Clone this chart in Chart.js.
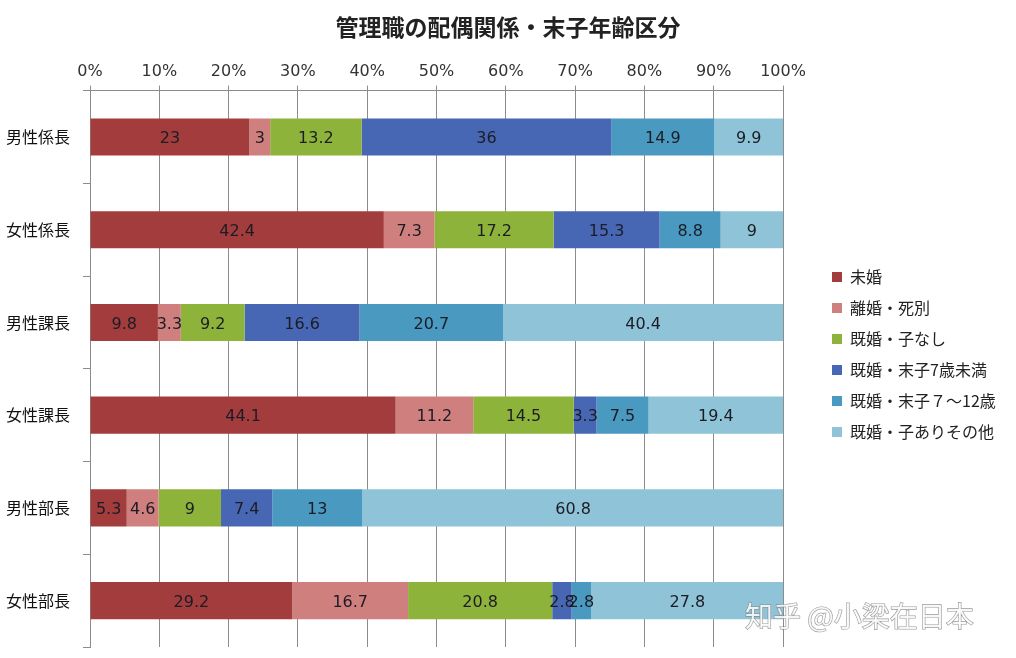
<!DOCTYPE html>
<html lang="ja">
<head>
<meta charset="utf-8">
<title>管理職の配偶関係・末子年齢区分</title>
<script src="https://cdn.jsdelivr.net/npm/chart.js@4/dist/chart.umd.min.js"></script>
<style>
  html, body { margin: 0; padding: 0; background: #fff; }
  #wrap { width: 1016px; height: 658px; }
</style>
</head>
<body>
<div id="wrap"><canvas id="cKanri" width="1016" height="658"></canvas></div>
<script>
/* ── datos ─────────────────────────── */
const categories = ['男性係長', '女性係長', '男性課長', '女性課長', '男性部長', '女性部長'];
const seriesNames = ['未婚', '離婚・死別', '既婚・子なし', '既婚・末子7歳未満', '既婚・末子７～12歳', '既婚・子ありその他'];
const mikon     = [23,   42.4,  9.8, 44.1,  5.3, 29.2];
const rikon     = [3,     7.3,  3.3, 11.2,  4.6, 16.7];
const konNashi  = [13.2, 17.2,  9.2, 14.5,  9,   20.8];
const matsu7    = [36,   15.3, 16.6,  3.3,  7.4,  2.8];
const matsu712  = [14.9,  8.8, 20.7,  7.5, 13,    2.8];
const sonota    = [9.9,   9,   40.4, 19.4, 60.8, 27.8];
const seriesData = [mikon, rikon, konNashi, matsu7, matsu712, sonota];
const xTicks = [0, 10, 20, 30, 40, 50, 60, 70, 80, 90, 100];

const colors = ['#a33c3c', '#cf7f7d', '#8eb33b', '#4767b5', '#4a99c0', '#8fc3d8'];
const gridCol = '#8c8c8c';
const numFont = "'DejaVu Sans', sans-serif";
const jpFont  = "'Noto Sans CJK JP', sans-serif";

Chart.defaults.font.family = numFont;

/* ── etiquetas dentro de las barras ── */
const barLabels = {
  id: 'barLabels',
  afterDatasetsDraw(chart) {
    const { ctx } = chart;
    ctx.save();
    ctx.font = '16px ' + numFont;
    ctx.fillStyle = '#1c1c24';
    ctx.textAlign = 'center';
    ctx.textBaseline = 'middle';
    chart.data.datasets.forEach((ds, i) => {
      chart.getDatasetMeta(i).data.forEach((bar, j) => {
        const { x, base, y } = bar.getProps(['x', 'base', 'y'], true);
        ctx.fillText(ds.data[j], (x + base) / 2, y + 2);
      });
    });
    ctx.restore();
  }
};

/* ── leyenda separada del área ─────── */
const legendShift = {
  id: 'legendShift',
  beforeInit(chart) {
    const lg = chart.legend;
    const fit = lg.fit, draw = lg.draw;
    lg.fit = function () { fit.call(this); this.width = 233; };
    lg.draw = function () {
      const ctx = this.ctx;
      ctx.save();
      ctx.translate(832 - (this.left + 15), 269 - (this.top + 15));
      draw.call(this);
      ctx.restore();
    };
  }
};

/* ── marca de agua ─────────────────── */
const watermark = {
  id: 'watermark',
  afterDraw(chart) {
    const { ctx } = chart;
    ctx.save();
    ctx.font = "28px 'Noto Sans CJK SC', sans-serif";
    ctx.textBaseline = 'middle';
    ctx.lineWidth = 1.2;
    ctx.strokeStyle = 'rgba(120,120,120,.75)';
    ctx.fillStyle = 'rgba(255,255,255,.85)';
    ctx.strokeText('知乎 @小梁在日本', 745, 616);
    ctx.fillText('知乎 @小梁在日本', 745, 616);
    ctx.restore();
  }
};

new Chart('cKanri', {
  type: 'bar',
  data: {
    labels: categories,
    datasets: seriesNames.map((name, i) => ({
      label: name,
      data: seriesData[i],
      backgroundColor: colors[i],
      borderWidth: 0,
      barPercentage: 0.4,
      categoryPercentage: 1
    }))
  },
  options: {
    indexAxis: 'y',
    responsive: false,
    animation: false,
    layout: { padding: { left: 0, right: 0, top: 0, bottom: 11 } },
    plugins: {
      title: {
        display: true,
        text: '管理職の配偶関係・末子年齢区分',
        color: '#222',
        font: { family: jpFont, size: 23, weight: 'bold' },
        padding: { top: 13, bottom: 0 }
      },
      legend: {
        position: 'right',
        align: 'start',
        labels: {
          boxWidth: 10, boxHeight: 10, padding: 15,
          color: '#222',
          font: { family: jpFont, size: 16 }
        }
      },
      tooltip: { enabled: false }
    },
    scales: {
      x: {
        stacked: true,
        position: 'top',
        min: 0, max: 100,
        afterBuildTicks: s => { s.ticks = xTicks.map(v => ({ value: v })); },
        ticks: { callback: v => v + '%', color: '#333', font: { size: 16 }, padding: 4 },
        grid: { color: gridCol, tickLength: 5 },
        border: { color: gridCol },
        afterFit: s => { s.height = 50; }
      },
      y: {
        stacked: true,
        ticks: { color: '#111', font: { family: jpFont, size: 16 }, padding: 13 },
        grid: { drawOnChartArea: false, tickLength: 7, color: gridCol, offset: true },
        border: { color: gridCol },
        afterFit: s => { s.width = 90; s.paddingTop = 0; s.paddingBottom = 0; }
      }
    }
  },
  plugins: [barLabels, legendShift, watermark]
});
</script>
</body>
</html>
